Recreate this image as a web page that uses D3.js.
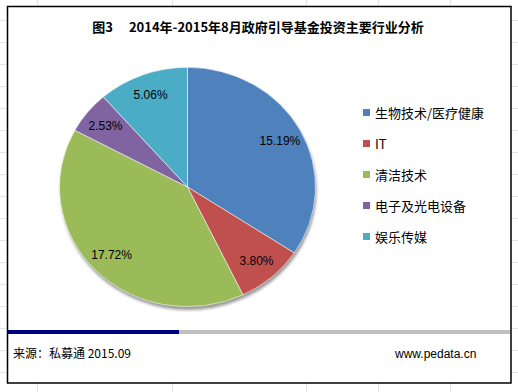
<!DOCTYPE html>
<html><head><meta charset="utf-8">
<script src="https://cdn.jsdelivr.net/npm/d3@7"></script>
<style>body{margin:0;background:#fff}svg{display:block}</style>
</head><body>
<svg id="c" width="518" height="392"></svg>
<script>
const categories = ["生物技术/医疗健康", "IT", "清洁技术", "电子及光电设备", "娱乐传媒"];
const values = [15.19, 3.80, 17.72, 2.53, 5.06];
const labels = ["15.19%", "3.80%", "17.72%", "2.53%", "5.06%"];
const colors = ["#4F81BD", "#C0504D", "#9BBB59", "#8064A2", "#4BACC6"];
const title = "图3\u3000 2014年-2015年8月政府引导基金投资主要行业分析";
const source = "来源：私募通 2015.09";
const site = "www.pedata.cn";

const svg = d3.select("#c");
const W = 518, H = 392;

// spreadsheet background grid
const gridCols = [37, 172, 306, 378, 450];
const gridRows = d3.range(20, 392, 22);
svg.append("g").selectAll("line.v").data(gridCols).join("line")
  .attr("x1", d => d + 0.5).attr("x2", d => d + 0.5).attr("y1", 0).attr("y2", H)
  .attr("stroke", "#e3e4e5").attr("stroke-width", 1);
svg.append("g").selectAll("line.h").data(gridRows).join("line")
  .attr("x1", 0).attr("x2", W).attr("y1", d => d + 0.5).attr("y2", d => d + 0.5)
  .attr("stroke", "#e3e4e5").attr("stroke-width", 1);

// chart frame
svg.append("rect").attr("x", 7.5).attr("y", 6.5).attr("width", 503.5).attr("height", 376.5)
  .attr("fill", "#fff").attr("stroke", "#000").attr("stroke-width", 1.5);

// title
svg.append("text").attr("x", 258).attr("y", 32).attr("text-anchor", "middle")
  .attr("font-family", "'Noto Sans CJK SC', sans-serif").attr("font-weight", "bold")
  .attr("font-size", 13).attr("fill", "#000").text(title);

// pie
const cx = 187.5, cy = 187, R = 128, sy = 0.935;
const pie = d3.pie().sort(null).value(d => d);
const arcs = pie(values);
const arc = d3.arc().innerRadius(0).outerRadius(R);
const labelArc = d3.arc().innerRadius(0.82 * R).outerRadius(0.82 * R);

const defs = svg.append("defs");
defs.append("filter").attr("id", "sh").attr("x", "-10%").attr("y", "-10%").attr("width", "120%").attr("height", "120%")
  .append("feGaussianBlur").attr("stdDeviation", 1.5);

const pg = svg.append("g").attr("transform", `translate(${cx},${cy}) scale(1,${sy})`);
pg.append("circle").attr("cx", 1).attr("cy", 3.5).attr("r", R)
  .attr("fill", "#444").attr("opacity", 0.55).attr("filter", "url(#sh)");
pg.selectAll("path").data(arcs).join("path")
  .attr("d", arc).attr("fill", (d, i) => colors[i])
  .attr("stroke", "#fff").attr("stroke-width", 0.6);

svg.append("g").selectAll("text").data(arcs).join("text")
  .attr("x", d => cx + labelArc.centroid(d)[0])
  .attr("y", d => cy + labelArc.centroid(d)[1] * sy + 4)
  .attr("text-anchor", "middle")
  .attr("font-family", "'Liberation Sans', Arial, sans-serif").attr("font-size", 12)
  .attr("fill", "#000").text((d, i) => labels[i]);

// legend
const ly = d3.scalePoint().domain(categories).range([113, 237]);
const lg = svg.append("g").selectAll("g").data(categories).join("g")
  .attr("transform", d => `translate(363,${ly(d)})`);
lg.append("rect").attr("x", 0).attr("y", -4).attr("width", 7).attr("height", 7)
  .attr("fill", (d, i) => colors[i]);
lg.append("text").attr("x", 12).attr("y", 4.5)
  .attr("font-family", "'Noto Sans CJK SC', sans-serif").attr("font-size", 13)
  .attr("fill", "#000").text(d => d);

// bottom bars
svg.append("rect").attr("x", 8).attr("y", 330).attr("width", 502).attr("height", 4).attr("fill", "#bfbfbf");
svg.append("rect").attr("x", 8).attr("y", 330).attr("width", 171).attr("height", 4).attr("fill", "#000080");

// footer
svg.append("text").attr("x", 13).attr("y", 358)
  .attr("font-family", "'Noto Sans CJK SC', sans-serif").attr("font-size", 12)
  .attr("fill", "#000").text(source);
svg.append("text").attr("x", 395).attr("y", 358)
  .attr("font-family", "'Liberation Sans', Arial, sans-serif").attr("font-size", 12)
  .attr("fill", "#000").text(site);
</script>
</body></html>
